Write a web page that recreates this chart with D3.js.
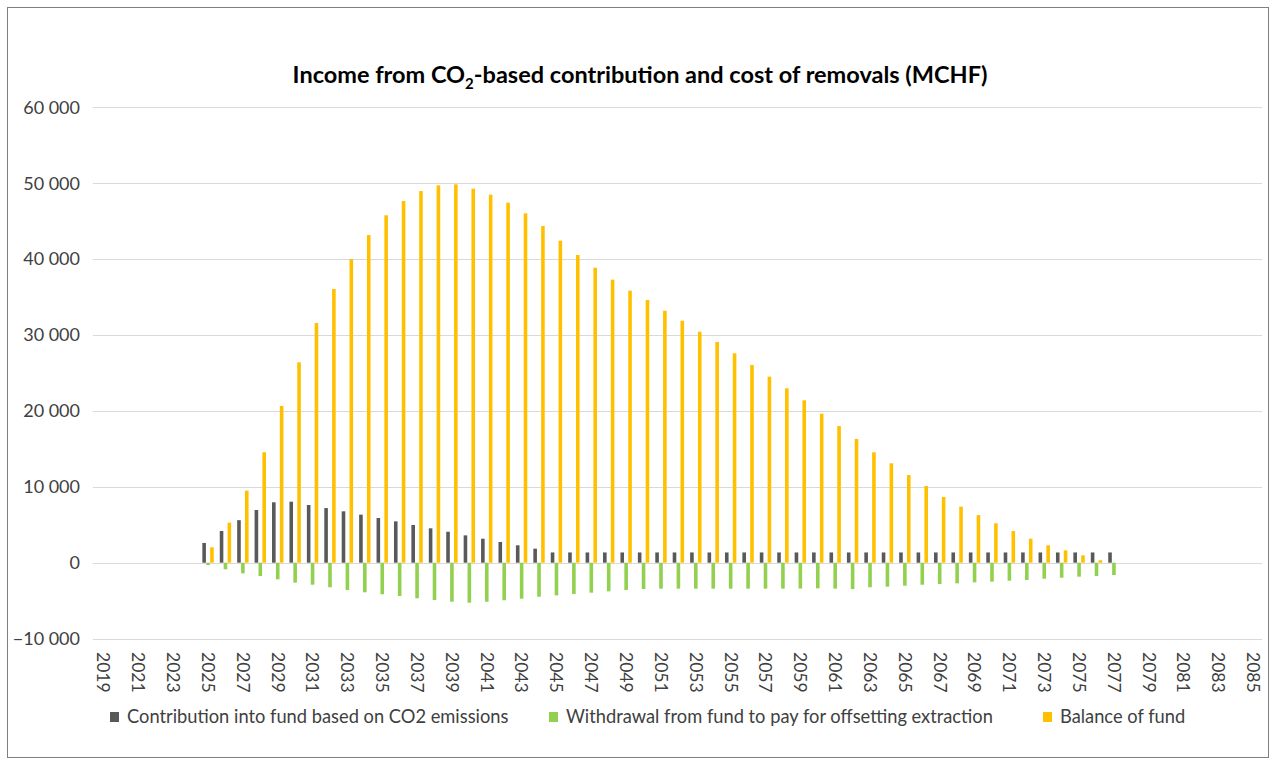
<!DOCTYPE html>
<html>
<head>
<meta charset="utf-8">
<script src="https://cdn.jsdelivr.net/npm/d3@7"></script>
<style>
  body { margin: 0; background: #fff; }
  svg { font-family: Lato, "Open Sans", sans-serif; }
</style>
</head>
<body>
<div id="chart"></div>
<script>
// Chart data.
const years = d3.range(2019, 2086)
const tickYears = years.filter(d => (d - 2019) % 2 === 0)
const yTicks = [-10000, 0, 10000, 20000, 30000, 40000, 50000, 60000]

// Values start in 2025, earlier years are empty.
const firstYear = 2025
const contribution = [2600, 4180, 5600, 6940, 7960, 8040, 7600, 7200, 6770, 6330,
    5890, 5450, 4970, 4530, 4080, 3600, 3160, 2730, 2290, 1850,
    1350, 1350, 1350, 1350, 1350, 1350, 1350, 1350, 1350, 1350,
    1350, 1350, 1350, 1350, 1350, 1350, 1350, 1350, 1350, 1350,
    1350, 1350, 1350, 1350, 1350, 1350, 1350, 1350, 1350, 1350,
    1350, 1350, 1350]
const withdrawal = [-300, -870, -1400, -1750, -2190, -2630, -2900, -3240, -3600, -3900,
    -4160, -4390, -4690, -4910, -5140, -5270, -5140, -4950, -4740, -4480,
    -4300, -4120, -3950, -3770, -3600, -3470, -3420, -3420, -3420, -3420,
    -3420, -3420, -3420, -3420, -3400, -3380, -3420, -3470, -3240, -3160,
    -3030, -2900, -2810, -2720, -2590, -2500, -2370, -2280, -2110, -1980,
    -1840, -1750, -1620]
const balance = [2030, 5270, 9490, 14550, 20650, 26400, 31580, 36060, 40010, 43170,
    45770, 47650, 48970, 49720, 49850, 49280, 48490, 47430, 46030, 44360,
    42430, 40540, 38870, 37290, 35840, 34610, 33200, 31880, 30430, 29080,
    27590, 26050, 24510, 22980, 21400, 19630, 18010, 16300, 14550, 13100,
    11550, 10100, 8660, 7380, 6280, 5190, 4180, 3160, 2290, 1630,
    970, 330, 0]

const seriesNames = ["Contribution into fund based on CO2 emissions",
    "Withdrawal from fund to pay for offsetting extraction",
    "Balance of fund"]
const seriesColours = ["#595959", "#92d050", "#ffc000"]

// Global sizes.
let width = 1276
let height = 765
let plot = {"left": 94.8, "right": 1262, "top": 107.3, "bottom": 638.6};

// Build one row per year for the grouped bars.
let rows = years.map(function(y) {
    let i = y - firstYear
    let ok = i >= 0 && i < contribution.length
    return {year: y, values: ok ? [contribution[i], withdrawal[i], balance[i]] : null}
})

let svg = d3.select("#chart")
    .append("svg")
    .attr("width", width)
    .attr("height", height);

// Outer frame of the chart.
svg.append("rect")
    .attr("x", 7.5).attr("y", 7.5)
    .attr("width", 1261).attr("height", 750)
    .attr("fill", "none")
    .attr("stroke", "#7f7f7f")
    .attr("stroke-width", 1);

// Scales.
let xRange = d3.scaleBand().domain(years).range([plot.left, plot.right])
    .paddingInner(0.31).paddingOuter(0.155);
let xSub = d3.scaleBand().domain([0, 1, 2]).range([0, xRange.bandwidth()]).padding(0.08);
let yRange = d3.scaleLinear().domain([-10000, 60000]).range([plot.bottom, plot.top]);

// Horizontal gridlines.
svg.append("g")
    .selectAll("line")
    .data(yTicks)
    .enter()
    .append("line")
    .attr("x1", plot.left - 2)
    .attr("x2", plot.right)
    .attr("y1", d => Math.round(yRange(d)) + 0.5)
    .attr("y2", d => Math.round(yRange(d)) + 0.5)
    .attr("stroke", "#d9d9d9")
    .attr("stroke-width", 1);

// Y axis labels, thousands split by a space.
svg.append("g")
    .selectAll("text")
    .data(yTicks)
    .enter()
    .append("text")
    .attr("x", 80)
    .attr("y", d => yRange(d))
    .attr("dy", "0.35em")
    .style("text-anchor", "end")
    .style("font-size", "18px")
    .style("fill", "#404040")
    .text(d => d3.format(",")(d).replace(/,/g, " "));

// X axis labels, rotated.
svg.append("g")
    .selectAll("text")
    .data(tickYears)
    .enter()
    .append("text")
    .attr("transform", d => "translate(" + (xRange(d) + xRange.bandwidth() / 2) + ",652) rotate(90)")
    .attr("dy", "0.35em")
    .style("text-anchor", "start")
    .style("font-size", "17.5px")
    .style("fill", "#404040")
    .text(d => d);

// Bars.
let groups = svg.append("g")
    .selectAll("g")
    .data(rows.filter(r => r.values))
    .enter()
    .append("g")
    .attr("transform", d => "translate(" + xRange(d.year) + ",0)");

groups.selectAll("rect")
    .data(d => d.values.map((v, k) => ({k: k, v: v})))
    .enter()
    .append("rect")
    .attr("x", d => xSub(d.k))
    .attr("width", xSub.bandwidth())
    .attr("y", d => yRange(Math.max(0, d.v)))
    .attr("height", d => Math.abs(yRange(d.v) - yRange(0)))
    .style("fill", d => seriesColours[d.k]);

// Title with subscript.
let title = svg.append("text")
    .attr("x", 640)
    .attr("y", 83)
    .style("text-anchor", "middle")
    .style("font-size", "23.5px")
    .style("font-weight", "bold")
    .style("fill", "#000");
title.append("tspan").text("Income from CO");
title.append("tspan").attr("dy", 6).style("font-size", "15px").text("2");
title.append("tspan").attr("dy", -6).text("-based contribution and cost of removals (MCHF)");

// Legend.
let legendX = [110, 549, 1043]
let legend = svg.append("g")
    .selectAll("g")
    .data(seriesNames)
    .enter()
    .append("g")
    .attr("transform", (d, i) => "translate(" + legendX[i] + ",717)");
legend.append("rect")
    .attr("x", 0).attr("y", -5)
    .attr("width", 9).attr("height", 10)
    .style("fill", (d, i) => seriesColours[i]);
legend.append("text")
    .attr("x", 17)
    .attr("dy", "0.35em")
    .style("font-size", "18.3px")
    .style("fill", "#404040")
    .text(d => d);
</script>
</body>
</html>
